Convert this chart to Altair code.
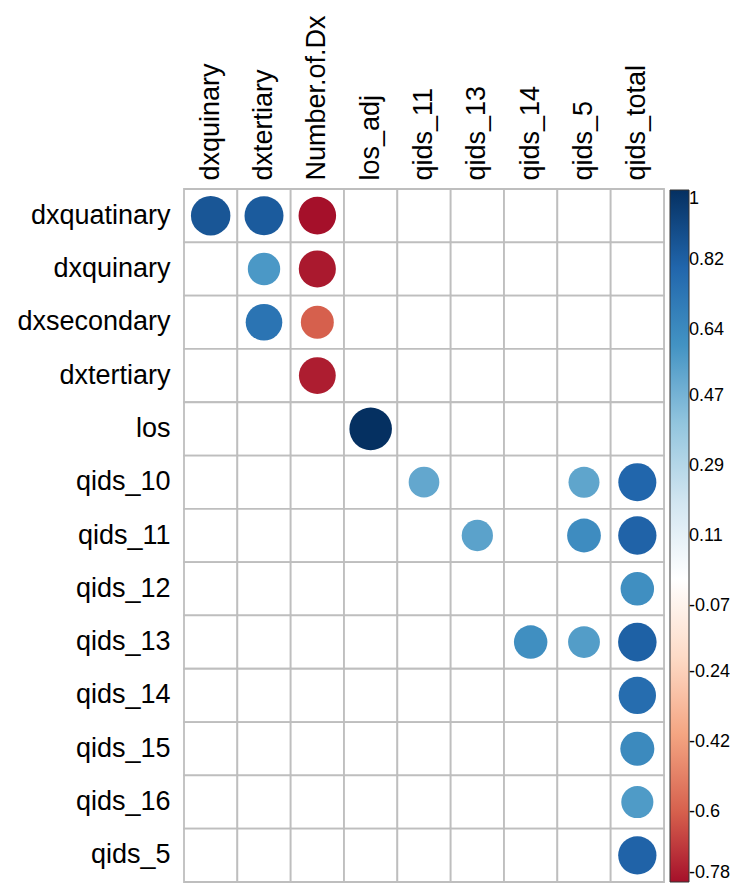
import altair as alt
import pandas as pd

rows = ["dxquatinary", "dxquinary", "dxsecondary", "dxtertiary", "los", "qids_10",
        "qids_11", "qids_12", "qids_13", "qids_14", "qids_15", "qids_16", "qids_5"]
cols = ["dxquinary", "dxtertiary", "Number.of.Dx", "los_adj", "qids_11", "qids_13",
        "qids_14", "qids_5", "qids_total"]

cell_rows = ["dxquatinary", "dxquatinary", "dxquatinary", "dxquinary", "dxquinary",
             "dxsecondary", "dxsecondary", "dxtertiary", "los",
             "qids_10", "qids_10", "qids_10", "qids_11", "qids_11", "qids_11",
             "qids_12", "qids_13", "qids_13", "qids_13", "qids_14", "qids_15",
             "qids_16", "qids_5"]
cell_cols = ["dxquinary", "dxtertiary", "Number.of.Dx", "dxtertiary", "Number.of.Dx",
             "dxtertiary", "Number.of.Dx", "Number.of.Dx", "los_adj",
             "qids_11", "qids_5", "qids_total", "qids_13", "qids_5", "qids_total",
             "qids_total", "qids_14", "qids_5", "qids_total", "qids_total", "qids_total",
             "qids_total", "qids_total"]
cell_values = [0.86, 0.84, -0.78, 0.58, -0.76,
               0.74, -0.6, -0.75, 1.0,
               0.52, 0.53, 0.80, 0.54, 0.63, 0.81,
               0.62, 0.62, 0.56, 0.82, 0.77, 0.64,
               0.57, 0.81]

legend_labels = [1, 0.82, 0.64, 0.47, 0.29, 0.11, -0.07, -0.24, -0.42, -0.6, -0.78]

grid = pd.DataFrame([(r, c) for r in rows for c in cols], columns=["row", "col"])
df = pd.DataFrame({"row": cell_rows, "col": cell_cols, "value": cell_values})
df["absval"] = df["value"].abs()

FONT = "Liberation Sans"

xenc = alt.X("col:N", sort=cols,
             scale=alt.Scale(domain=cols, paddingInner=0, paddingOuter=0),
             axis=alt.Axis(orient="top", title=None, labelAngle=-90, labelAlign="left",
                           labelBaseline="middle", labelFontSize=27, labelFont=FONT,
                           labelColor="black", labelPadding=9, ticks=False, domain=False,
                           grid=False, labelLimit=400))
yenc = alt.Y("row:N", sort=rows,
             scale=alt.Scale(domain=rows, paddingInner=0, paddingOuter=0),
             axis=alt.Axis(title=None, labelFontSize=27, labelFont=FONT, labelColor="black",
                           labelPadding=14, ticks=False, domain=False, grid=False,
                           labelLimit=400))

cells = alt.Chart(grid).mark_rect(fill="white", stroke="#BEBEBE", strokeWidth=1.8).encode(
    x=xenc, y=yenc)

color_domain = [-0.78, -0.6, -0.4, -0.2, 0, 0.2, 0.4, 0.6, 0.8, 1.0]
color_range = ["#A5102A", "#D6604D", "#F4A582", "#FDDBC7", "#FFFFFF", "#D1E5F0",
               "#92C5DE", "#4393C3", "#2166AC", "#053061"]

circles = alt.Chart(df).mark_point(shape="circle", filled=True, opacity=1, strokeWidth=0).encode(
    x=alt.X("col:N", sort=cols),
    y=alt.Y("row:N", sort=rows),
    size=alt.Size("absval:Q", scale=alt.Scale(domain=[0, 1], range=[0, 1810]), legend=None),
    color=alt.Color("value:Q",
                    scale=alt.Scale(domain=color_domain, range=color_range, interpolate="rgb"),
                    legend=alt.Legend(orient="none", legendX=486, legendY=1, title=None,
                                      direction="vertical", gradientLength=692,
                                      gradientThickness=19, gradientStrokeColor="#333333",
                                      gradientStrokeWidth=1, values=legend_labels,
                                      labelExpr="'' + datum.value", labelFontSize=18,
                                      labelFont=FONT, labelColor="black", labelOffset=0,
                                      labelOverlap=False, padding=0, labelBaseline="middle")),
)

chart = (cells + circles).properties(
    width=480, height=693,
    padding={"left": 176, "top": 181, "right": 66, "bottom": 4},
    autosize=alt.AutoSizeParams(type="none"),
).configure_view(stroke=None).configure(background="white")

chart.save("out.html", embed_options={"renderer": "svg", "actions": False})
